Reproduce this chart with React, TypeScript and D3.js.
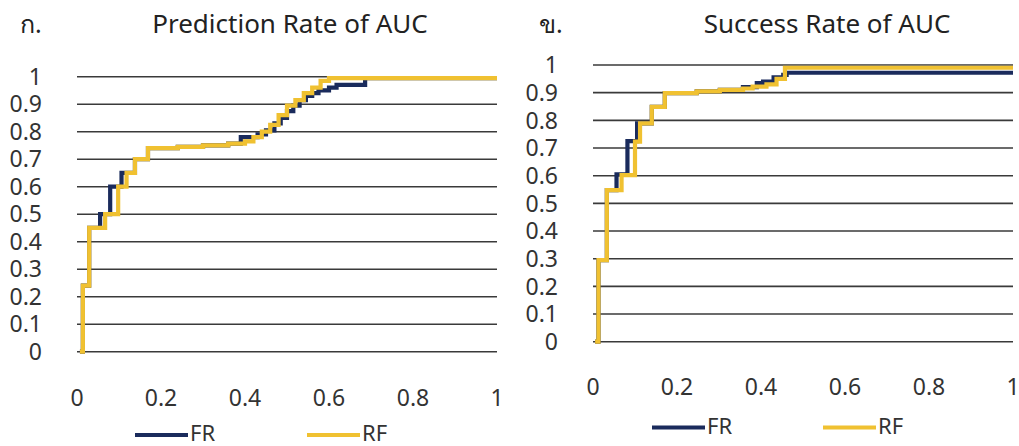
import React from 'react';
import * as d3 from 'd3';

// ROC-like step curves: [false positive rate, true positive rate]
// each point is where the curve steps up to a new value (curveStepAfter)
const predFR: [number, number][] = [
  [0.007, 0], [0.014, 0.24], [0.029, 0.45], [0.055, 0.5], [0.079, 0.6], [0.106, 0.65],
  [0.138, 0.7], [0.169, 0.74], [0.24, 0.745], [0.3, 0.75], [0.36, 0.757], [0.39, 0.78],
  [0.43, 0.79], [0.45, 0.805], [0.47, 0.83], [0.485, 0.85], [0.5, 0.875], [0.515, 0.895],
  [0.53, 0.915], [0.545, 0.93], [0.56, 0.94], [0.575, 0.95], [0.6, 0.96], [0.618, 0.97],
  [0.686, 0.995], [1, 0.995],
];
const predRF: [number, number][] = [
  [0.007, 0], [0.014, 0.24], [0.029, 0.45], [0.067, 0.5], [0.098, 0.6], [0.118, 0.65],
  [0.138, 0.7], [0.169, 0.74], [0.24, 0.745], [0.3, 0.75], [0.36, 0.757], [0.4, 0.765],
  [0.42, 0.78], [0.44, 0.8], [0.46, 0.825], [0.48, 0.86], [0.5, 0.895], [0.52, 0.915],
  [0.54, 0.94], [0.56, 0.96], [0.58, 0.985], [0.6, 0.995], [1, 0.995],
];
const succFR: [number, number][] = [
  [0.005, 0], [0.013, 0.295], [0.033, 0.548], [0.056, 0.605], [0.082, 0.725], [0.105, 0.789],
  [0.14, 0.849], [0.171, 0.898], [0.247, 0.905], [0.302, 0.91], [0.357, 0.92], [0.39, 0.935],
  [0.405, 0.94], [0.43, 0.955], [0.453, 0.964], [0.461, 0.972], [1, 0.972],
];
const succRF: [number, number][] = [
  [0.005, 0], [0.013, 0.295], [0.033, 0.548], [0.068, 0.602], [0.1, 0.723], [0.112, 0.789],
  [0.14, 0.849], [0.171, 0.898], [0.247, 0.905], [0.302, 0.91], [0.357, 0.915], [0.38, 0.922],
  [0.413, 0.93], [0.437, 0.95], [0.457, 0.99], [1, 0.99],
];

const yTicks = [0, 0.1, 0.2, 0.3, 0.4, 0.5, 0.6, 0.7, 0.8, 0.9, 1];
const xTicks = [0, 0.2, 0.4, 0.6, 0.8, 1];
const seriesNames = ['FR', 'RF'];
const colors = ['#1a2b5c', '#f0c131'];

const font = "'Noto Sans', 'Open Sans', sans-serif";

type PanelProps = {
  left: number; right: number; top: number; bottom: number;
  label: string; title: string; titleX: number; labelX: number;
  xLabelY: number; legendY: number; legendX: number[];
  series: [number, number][][];
};

const Panel = (p: PanelProps) => {
  const x = d3.scaleLinear().domain([0, 1]).range([p.left, p.right]);
  const y = d3.scaleLinear().domain([0, 1]).range([p.bottom, p.top]);
  const line = d3.line<[number, number]>()
    .x(d => x(d[0]))
    .y(d => y(d[1]))
    .curve(d3.curveStepAfter);
  return (
    <g>
      <text x={p.labelX} y={33} fontSize={25} fill="#222">{p.label}</text>
      <text x={p.titleX} y={33} fontSize={26} textAnchor="middle" fill="#222">{p.title}</text>
      {yTicks.map(t => (
        <g key={t}>
          <line x1={p.left} x2={p.right} y1={y(t)} y2={y(t)} stroke="#3a3a3a" strokeWidth={1.6} />
          <text x={p.left - 35} y={y(t)} dy="0.36em" fontSize={23} textAnchor="end" fill="#333">
            {d3.format('~g')(t)}
          </text>
        </g>
      ))}
      {xTicks.map(t => (
        <text key={t} x={x(t)} y={p.xLabelY} fontSize={23} textAnchor="middle" fill="#333">
          {d3.format('~g')(t)}
        </text>
      ))}
      {p.series.map((s, i) => (
        <path key={i} d={line(s) || ''} fill="none" stroke={colors[i]} strokeWidth={4.2} />
      ))}
      {seriesNames.map((n, i) => (
        <g key={n}>
          <line x1={p.legendX[i]} x2={p.legendX[i] + 53} y1={p.legendY} y2={p.legendY}
            stroke={colors[i]} strokeWidth={4} />
          <text x={p.legendX[i] + 55} y={p.legendY + 6} fontSize={22} fill="#333">{n}</text>
        </g>
      ))}
    </g>
  );
};

export default function App() {
  return (
    <svg width={1019} height={446} style={{ position: 'absolute', left: 0, top: 0, fontFamily: font }}>
      <rect width={1019} height={446} fill="#fff" />
      <Panel left={77} right={497} top={76.7} bottom={351.7}
        label="ก." labelX={20} title="Prediction Rate of AUC" titleX={290}
        xLabelY={406} legendY={435} legendX={[135, 307]}
        series={[predFR, predRF]} />
      <Panel left={593} right={1013} top={65} bottom={341.7}
        label="ข." labelX={539} title="Success Rate of AUC" titleX={827}
        xLabelY={395} legendY={427.5} legendX={[652, 823]}
        series={[succFR, succRF]} />
    </svg>
  );
}
